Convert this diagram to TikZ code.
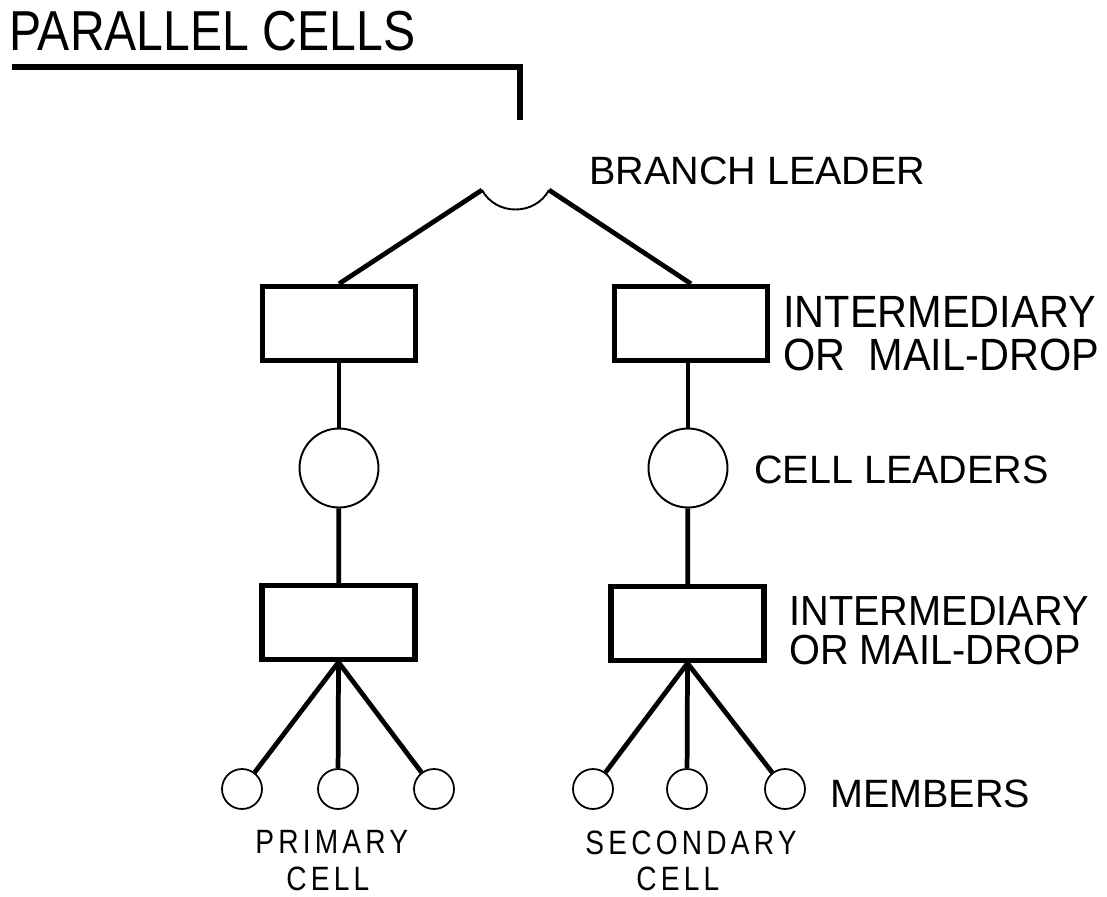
\documentclass[tikz,border=0pt]{standalone}
\usepackage{graphicx}
\usepackage{fontspec}
\setmainfont{Liberation Sans}
\newfontfamily\spacedfont[LetterSpace=15]{Liberation Sans}
\usepackage{tikz}

\newcommand{\tallby}[2]{\scalebox{1}[#1]{#2}}

\tikzset{
    cellbox/.style={draw, rectangle, line width=3.1pt, inner sep=0,
        minimum width=3.06cm, minimum height=1.48cm},
    leader/.style={draw, circle, line width=1.1pt, inner sep=0, minimum size=1.58cm},
    member/.style={draw, circle, line width=1pt, inner sep=0, minimum size=0.8cm},
    link/.style={line width=2.7pt},
    label/.style={anchor=base west, inner sep=0, font=\fontsize{22.5}{27}\selectfont},
    small/.style={anchor=base west, inner sep=0, font=\spacedfont\fontsize{16}{19}\selectfont},
}

\begin{document}
\begin{tikzpicture}[x=0.02cm, y=-0.02cm]
        \useasboundingbox (0,0) rectangle (1107,897);

        % title and its rule
        \node[label, font=\fontsize{27.4}{32}\selectfont] (title) at (9,50) {\tallby{1.17}{PARALLEL CELLS}};
        \coordinate (rule-a) at (12,67);
        \coordinate (rule-b) at (520,67);
        \coordinate (rule-c) at (520,120);
        \draw[line width=2.9pt] (rule-a) -- (rule-b) -- (rule-c);

        % branch leader
        \coordinate (bl-a) at (482,190);
        \coordinate (bl-b) at (549,190);
        \draw[line width=1.1pt] (bl-a) .. controls (496,216) and (535,216) .. (bl-b);

        % the two chains
        \node[cellbox] (ltop) at (339,323.5) {};
        \node[cellbox] (rtop) at (691,323.5) {};
        \node[leader] (lcl) at (339,468) {};
        \node[leader] (rcl) at (688,468) {};
        \node[cellbox] (lbot) at (338.5,622.5) {};
        \node[cellbox] (rbot) at (687.5,623.5) {};

        \draw[link] (bl-a) -- (ltop.north);
        \draw[link] (bl-b) -- (rtop.north);
        \draw[link] (lcl.north) -- (lcl.north |- ltop.south);
        \draw[link] (rcl.north) -- (rcl.north |- rtop.south);
        \draw[link] (lcl) -- (lbot);
        \draw[link] (rcl) -- (rbot);

        % members
        \foreach \x[count=\i] in {242, 338, 434} {
            \node[member] (pm\i) at (\x,789) {};
            \draw[link] (lbot.south) -- (pm\i);
        }
        \foreach \x[count=\i] in {593, 687, 785} {
            \node[member] (sm\i) at (\x,789) {};
            \draw[link] (rbot.south) -- (sm\i);
        }

        % labels
        \node[label] (bl-text) at (589,184) {BRANCH LEADER};
        \node[label, font=\fontsize{23.6}{28}\selectfont] (im1-a) at (783,327) {\tallby{1.09}{INTERMEDIARY}};
        \node[label, font=\fontsize{23.6}{28}\selectfont] (im1-b) at (783,370) {\tallby{1.09}{OR\ \ MAIL-DROP}};
        \node[label] (cl-text) at (754,483) {CELL LEADERS};
        \node[label, font=\fontsize{22.6}{27}\selectfont] (im2-a) at (789,625) {\tallby{1.06}{INTERMEDIARY}};
        \node[label, font=\fontsize{22.6}{27}\selectfont] (im2-b) at (789,664) {\tallby{1.06}{OR MAIL-DROP}};
        \node[label] (mb-text) at (830,807) {MEMBERS};

        \node[small] (prim-a) at (255,853) {\tallby{1.2}{PRIMARY}};
        \node[small] (prim-b) at (286,890) {\tallby{1.2}{CELL}};
        \node[small] (sec-a) at (585,854) {\tallby{1.2}{SECONDARY}};
        \node[small] (sec-b) at (636,890) {\tallby{1.2}{CELL}};
\end{tikzpicture}
\end{document}
